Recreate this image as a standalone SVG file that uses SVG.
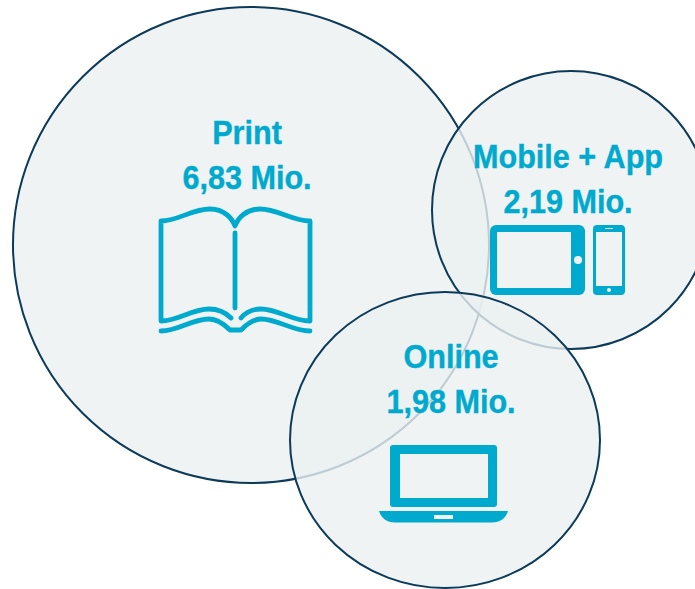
<svg xmlns="http://www.w3.org/2000/svg" width="695" height="589" viewBox="0 0 695 589">
<style>
.c{fill:#ebf0f1;fill-opacity:.8;stroke:#0c3b5a;stroke-width:2}
.t{font-family:"Liberation Sans",Arial,sans-serif;font-weight:700;font-size:34px;fill:#00a9ce;stroke:#00a9ce;stroke-width:.4;text-anchor:middle}
.i{fill:#00a9ce}
.l{fill:none;stroke:#00a9ce;stroke-width:4.8;stroke-linecap:round;stroke-linejoin:round}
.h{fill:#eff3f4}
</style>
<rect width="695" height="589" fill="#fff"/>
<g id="print">
<ellipse class="c" cx="251" cy="245" rx="238" ry="238"/>
<text class="t" transform="translate(247 144) scale(.9 1)">Print</text>
<text class="t" transform="translate(247 189) scale(.9 1)">6,83 Mio.</text>
<path class="l" d="M161 221C178 221 192 209 210 209C224 209 232 218 235 226C238 218 246 209 260 209C278 209 292 221 310 221V321C292 321 278 309 261 309C252 309 245 313 241 318M161 221V321C178 321 192 309 209 309C218 309 226 313 231 318"/>
<path class="l" d="M235 233V308M161 331C178 331 192 319 209 319C218 319 225 325 230 330H241C246 325 253 319 261 319C278 319 292 331 310 331"/>
</g>
<g id="mobile">
<ellipse class="c" cx="571" cy="210" rx="139" ry="139"/>
<text class="t" transform="translate(568 168) scale(.9 1)">Mobile + App</text>
<text class="t" transform="translate(568 213) scale(.9 1)">2,19 Mio.</text>
<rect class="i" x="490" y="225" width="95" height="70" rx="6"/>
<rect class="h" x="497" y="232" width="74" height="56"/>
<circle class="h" cx="578" cy="260" r="4"/>
<rect class="i" x="593" y="225" width="32" height="70" rx="4"/>
<rect class="h" x="596" y="232" width="26" height="54"/>
<rect class="h" x="605" y="228" width="8" height="1"/>
<circle class="h" cx="609" cy="290" r="2"/>
</g>
<g id="online">
<ellipse class="c" cx="445" cy="440" rx="155" ry="148"/>
<text class="t" transform="translate(451 368) scale(.9 1)">Online</text>
<text class="t" transform="translate(451 413) scale(.9 1)">1,98 Mio.</text>
<rect class="i" x="390" y="445" width="107" height="62" rx="3"/>
<rect class="h" x="400" y="454" width="88" height="44"/>
<path class="i" d="M379 511H508C506 518 500 522.500 492 522.500H395C387 522.500 381 518 379 511Z"/>
<rect class="h" x="434" y="515" width="19" height="4"/>
</g>
<g id="connectors"/>
</svg>
